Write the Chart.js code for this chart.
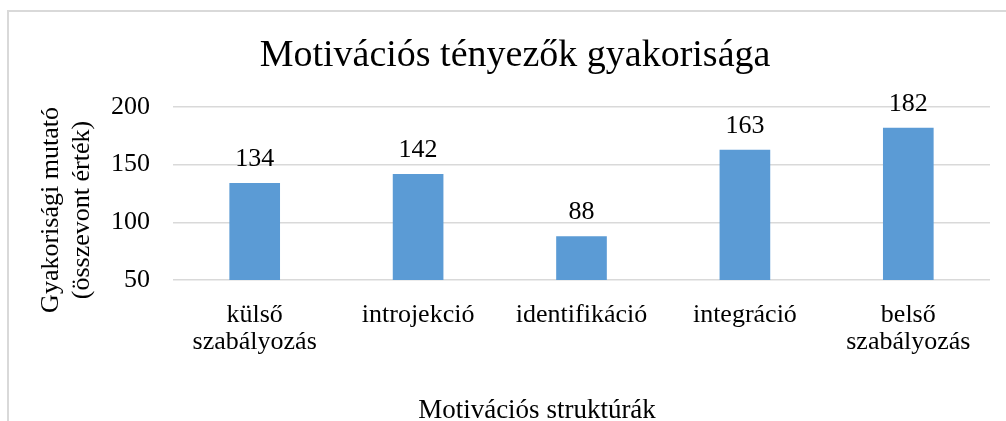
<!DOCTYPE html>
<html>
<head>
<meta charset="utf-8">
<script src="https://cdn.jsdelivr.net/npm/chart.js@4"></script>
<style>
  html, body { margin: 0; padding: 0; background: #fff; overflow: hidden; }
  #wrap { position: relative; width: 1006px; height: 421px; }
  #frame { position: absolute; left: 7px; top: 10px; right: -10px; bottom: -10px;
           border-left: 2px solid #d9d9d9; border-top: 2px solid #d9d9d9; }
  canvas { position: absolute; left: 0; top: 0; }
</style>
</head>
<body>
<div id="wrap">
  <div id="frame"></div>
  <canvas id="chart" width="1006" height="421"></canvas>
</div>
<script>
  const categories = [['külső', 'szabályozás'], 'introjekció', 'identifikáció', 'integráció', ['belső', 'szabályozás']];
  const values = [134, 142, 88, 163, 182];
  const yTicks = [50, 100, 150, 200];
  const chartTitle = 'Motivációs tényezők gyakorisága';
  const xTitle = 'Motivációs struktúrák';
  const yTitle = ['Gyakorisági mutató', '(összevont érték)'];

  const serif = '"Liberation Serif", "Times New Roman", serif';

  // value labels above each bar
  const valueLabels = {
    id: 'valueLabels',
    afterDatasetsDraw(chart) {
      const ctx = chart.ctx;
      const meta = chart.getDatasetMeta(0);
      ctx.save();
      ctx.font = '26px ' + serif;
      ctx.fillStyle = '#000';
      ctx.textAlign = 'center';
      ctx.textBaseline = 'alphabetic';
      meta.data.forEach((bar, i) => {
        ctx.fillText(String(values[i]), bar.x, bar.y - 17);
      });
      ctx.restore();
    }
  };

  // axis titles, placed like the original (not centred on the plot area)
  const axisTitles = {
    id: 'axisTitles',
    afterDraw(chart) {
      const ctx = chart.ctx;
      ctx.save();
      ctx.fillStyle = '#000';
      ctx.textAlign = 'center';
      ctx.font = '27px ' + serif;
      ctx.textBaseline = 'alphabetic';
      ctx.fillText(xTitle, 537, 418);
      ctx.font = '26px ' + serif;
      ctx.translate(0, 210);
      ctx.rotate(-Math.PI / 2);
      ctx.textBaseline = 'middle';
      ctx.fillText(yTitle[0], 0, 51);
      ctx.fillText(yTitle[1], 0, 82);
      ctx.restore();
    }
  };

  new Chart(document.getElementById('chart'), {
    type: 'bar',
    data: {
      labels: categories,
      datasets: [{
        data: values,
        backgroundColor: '#5b9bd5',
        categoryPercentage: 1,
        barPercentage: 0.31
      }]
    },
    options: {
      responsive: false,
      animation: false,
      layout: { padding: { left: 40, right: 16, top: 0, bottom: 0 } },
      plugins: {
        legend: { display: false },
        tooltip: { enabled: false },
        title: {
          display: true,
          text: chartTitle,
          color: '#000',
          font: { family: serif, size: 38, weight: 'normal', lineHeight: 1.2 },
          padding: { top: 33.5, bottom: 27.9 }
        }
      },
      scales: {
        x: {
          grid: { display: false, drawTicks: false },
          border: { display: false },
          ticks: {
            color: '#000',
            padding: 22,
            font: { family: serif, size: 26, lineHeight: 1.03 }
          },
          afterFit(scale) { scale.height = 141; }
        },
        y: {
          min: 50,
          max: 200,
          afterBuildTicks(scale) { scale.ticks = yTicks.map((v) => ({ value: v })); },
          grid: { color: '#d9d9d9', lineWidth: 1.5, drawTicks: false },
          border: { display: false },
          ticks: {
            color: '#000',
            padding: 23,
            font: { family: serif, size: 26 }
          },
          afterFit(scale) { scale.width = 133; }
        }
      }
    },
    plugins: [valueLabels, axisTitles]
  });
</script>
</body>
</html>
